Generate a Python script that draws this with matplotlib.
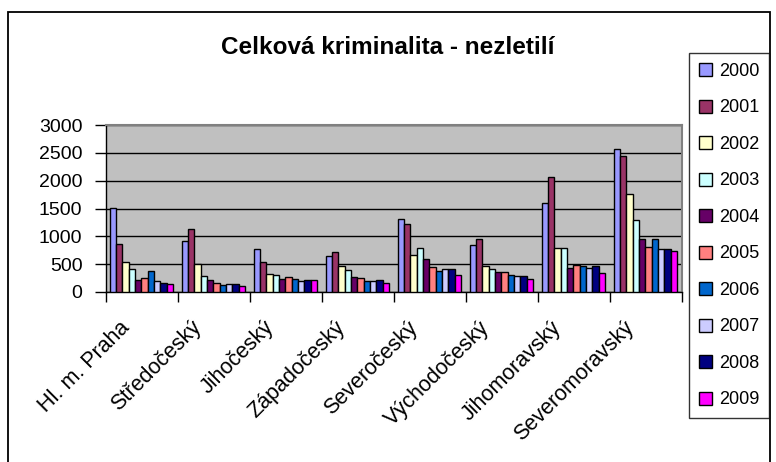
import matplotlib
matplotlib.use("Agg")
import matplotlib.pyplot as plt
import matplotlib.transforms as mtransforms
from matplotlib.patches import Rectangle
import numpy as np

plt.rcParams['font.family'] = ['Liberation Sans', 'DejaVu Sans']

regions = ["Hl. m. Praha", "Středočeský", "Jihočeský", "Západočeský",
           "Severočeský", "Východočeský", "Jihomoravský", "Severomoravský"]
years = ["2000", "2001", "2002", "2003", "2004", "2005", "2006", "2007", "2008", "2009"]

v2000 = [1512, 918, 774, 648, 1314, 838, 1599, 2563]
v2001 = [871, 1123, 540, 714, 1213, 952, 2066, 2443]
v2002 = [540, 498, 324, 475, 666, 467, 784, 1767]
v2003 = [421, 283, 300, 396, 799, 413, 784, 1299]
v2004 = [223, 223, 229, 277, 594, 359, 437, 952]
v2005 = [252, 169, 270, 247, 450, 359, 485, 808]
v2006 = [373, 121, 241, 198, 373, 311, 473, 952]
v2007 = [198, 151, 198, 198, 410, 287, 437, 778]
v2008 = [169, 151, 223, 223, 407, 287, 473, 779]
v2009 = [151, 103, 223, 169, 311, 234, 341, 743]
series = [v2000, v2001, v2002, v2003, v2004, v2005, v2006, v2007, v2008, v2009]

colors = ["#9999FF", "#993366", "#FFFFCC", "#CCFFFF", "#660066",
          "#FF8080", "#0066CC", "#CCCCFF", "#000080", "#FF00FF"]

W, H = 776, 462
fig = plt.figure(figsize=(W / 100, H / 100), dpi=100)
fig.patch.set_facecolor("white")

# outer chart border
fig.patches.append(Rectangle((8 / W, -0.05), (770 - 8) / W, 1.05 - 12 / H,
                             transform=fig.transFigure, fill=False,
                             edgecolor="black", linewidth=1.3))

ax = fig.add_axes([106 / W, 1 - 292 / H, (682 - 106) / W, (292 - 125) / H])
ax.set_facecolor("#C0C0C0")

n = len(regions)
x = np.arange(n)
bw = 0.088
for i, (vals, c, yr) in enumerate(zip(series, colors, years)):
    offs = (i - 4.5) * bw - 0.01
    ax.bar(x + offs, vals, width=bw, color=c, edgecolor="black",
           linewidth=1.0, label=yr, zorder=3)

ax.set_xlim(-0.5, n - 0.5)
ax.set_ylim(0, 3000)
ax.set_yticks(np.arange(0, 3001, 500))
ax.yaxis.grid(True, color="black", linewidth=1.0, zorder=1)
ax.set_axisbelow(True)

ax.set_xticks(np.arange(-0.5, n, 1.0))
ax.set_xticklabels([])
ax.set_xticks(x, minor=True)
ax.set_xticklabels(regions, minor=True, rotation=45, ha="right", va="top",
                   fontsize=15.5)
ax.tick_params(axis="x", which="minor", length=0, pad=18)
ax.tick_params(axis="x", which="major", length=7, width=1, direction="out")
ax.tick_params(axis="y", length=8, width=1, direction="out", labelsize=14, pad=9)

offset = mtransforms.ScaledTranslation(-8 / 100, 0, fig.dpi_scale_trans)
for lbl in ax.xaxis.get_minorticklabels():
    lbl.set_transform(lbl.get_transform() + offset)

for s in ["left", "bottom"]:
    ax.spines[s].set_color("black")
    ax.spines[s].set_linewidth(1.0)
for s in ["top", "right"]:
    ax.spines[s].set_color("#808080")
    ax.spines[s].set_linewidth(1.5)

fig.text(388 / W, 1 - 47 / H, "Celková kriminalita - nezletilí",
         ha="center", va="center", fontsize=17.5, fontweight="bold")

handles, labels = ax.get_legend_handles_labels()
leg = fig.legend(handles, labels, loc="upper left",
                 bbox_to_anchor=(689 / W, 1 - 53 / H),
                 fontsize=13, frameon=True, fancybox=False,
                 edgecolor="black", handlelength=0.75, handleheight=0.75,
                 handletextpad=0.35, labelspacing=1.08, borderpad=0.55,
                 borderaxespad=0)
leg.get_frame().set_linewidth(1.0)

fig.savefig("out.png", dpi=100)
